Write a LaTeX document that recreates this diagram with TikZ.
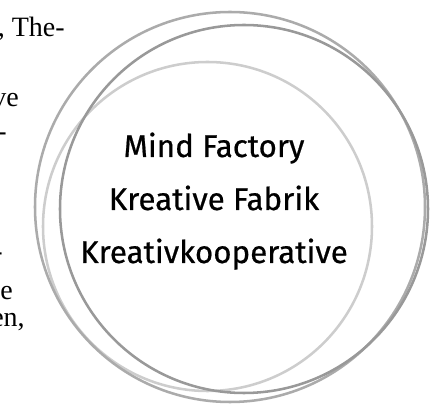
\documentclass[tikz,border=0pt]{standalone}
\usepackage{fontspec}
\setmainfont{Liberation Serif}
\newfontfamily\dinfont[FakeBold=0.6]{Fira Sans}
\begin{document}
\begin{tikzpicture}[x=0.75pt,y=-0.75pt,
  ring/.style={line width=1.9pt},
  sidetext/.style={font=\fontsize{21}{25}\selectfont, anchor=base east, inner sep=0pt},
  maintext/.style={font=\dinfont\fontsize{23.5}{28}\selectfont, anchor=base, inner sep=0pt}]
\useasboundingbox (0,0) rectangle (430,406);
\clip (0,0) rectangle (430,406);
\definecolor{ringA}{HTML}{ABABAB}
\definecolor{ringB}{HTML}{999999}
\definecolor{ringC}{HTML}{CDCDCD}
% side paragraph fragments
\node[sidetext] (s1) at (65,37) {, The-};
\node[sidetext] (s2) at (19,107) {ve};
\node[sidetext] (s3) at (7,141) {-};
\node[sidetext] (s4) at (3,261) {-};
\node[sidetext] (s5) at (13,300) {e};
\node[sidetext] (s6) at (25,327) {en,};
% rings
\draw[ring, ringC] (207.5,226.5) circle[radius=164.5];
\draw[ring, ringA] (230,207) circle[radius=195];
\draw[ring, ringB] (244,209) circle[radius=184];
% text
\node[maintext] (t1) at (214,157) {Mind Factory};
\node[maintext] (t2) at (214,210) {Kreative Fabrik};
\node[maintext] (t3) at (214,263) {Kreativkooperative};
\end{tikzpicture}
\end{document}
